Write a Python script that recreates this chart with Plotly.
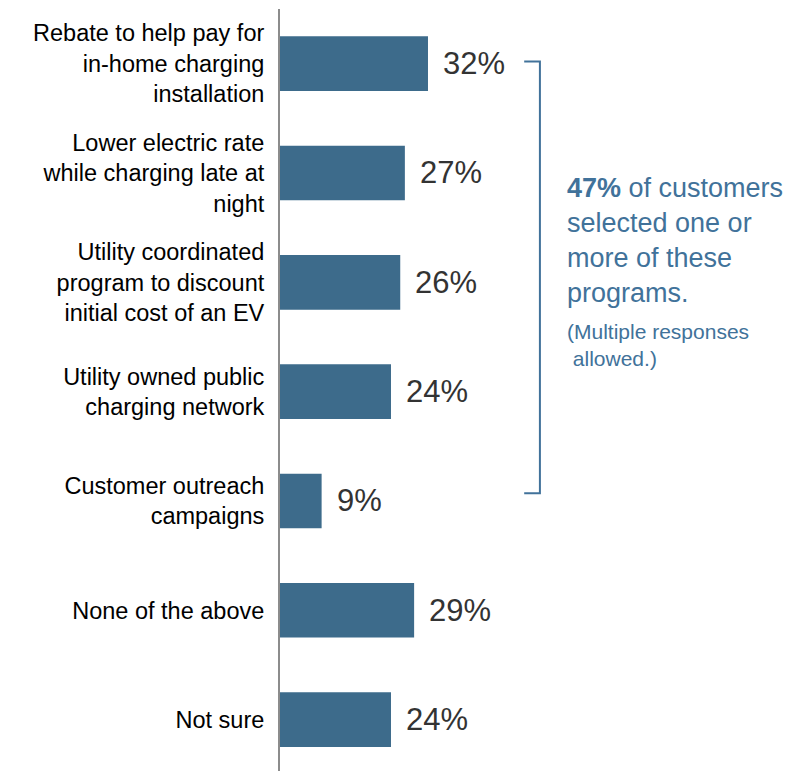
import plotly.graph_objects as go

categories = [
    "Rebate to help pay for<br>in-home charging<br>installation",
    "Lower electric rate<br>while charging late at<br>night",
    "Utility coordinated<br>program to discount<br>initial cost of an EV",
    "Utility owned public<br>charging network",
    "Customer outreach<br>campaigns",
    "None of the above",
    "Not sure",
]
values = [32, 27, 26, 24, 9, 29, 24]
value_labels = ["32%", "27%", "26%", "24%", "9%", "29%", "24%"]

BAR = "#3d6b8b"
BLUE = "#41729a"

fig = go.Figure()
fig.add_trace(go.Bar(
    y=list(range(len(categories))), x=values, orientation="h",
    marker=dict(color=BAR, line=dict(width=0)), width=0.5,
    hoverinfo="skip",
))

annotations = []
for i, (v, t) in enumerate(zip(values, value_labels)):
    annotations.append(dict(x=v, y=i, xref="x", yref="y", text=t, showarrow=False,
                            xanchor="left", yanchor="middle", xshift=13,
                            font=dict(family="Liberation Sans, Arial", size=31, color="#333333")))

annotations.append(dict(x=61.6, y=1.62, xref="x", yref="y",
                        text="<b>47%</b> of customers<br>selected one or<br>more of these<br>programs.",
                        showarrow=False, xanchor="left", yanchor="middle", align="left",
                        font=dict(family="Liberation Sans, Arial", size=27, color=BLUE)))
annotations.append(dict(x=61.6, y=2.57, xref="x", yref="y",
                        text="(Multiple responses<br> allowed.)",
                        showarrow=False, xanchor="left", yanchor="middle", align="left",
                        font=dict(family="Liberation Sans, Arial", size=21, color=BLUE)))

shapes = [
    dict(type="path", xref="x", yref="y",
         path="M 52.8,-0.02 L 56.2,-0.02 L 56.2,3.93 L 52.8,3.93",
         line=dict(color=BLUE, width=2)),
]

fig.update_layout(
    width=810, height=771,
    margin=dict(l=280, r=0, t=9, b=0),
    plot_bgcolor="white", paper_bgcolor="white",
    showlegend=False,
    annotations=annotations, shapes=shapes,
    xaxis=dict(range=[0, 114.6], visible=False, fixedrange=True),
    yaxis=dict(range=[6.47, -0.5], tickmode="array", tickvals=list(range(len(categories))),
               ticktext=categories, showline=True, linecolor="#8c8c8c", linewidth=2,
               showgrid=False, zeroline=False, ticks="", ticklabelstandoff=9,
               tickfont=dict(family="Liberation Sans, Arial", size=23.5, color="#000000")),
)

fig.write_html("out.html")
